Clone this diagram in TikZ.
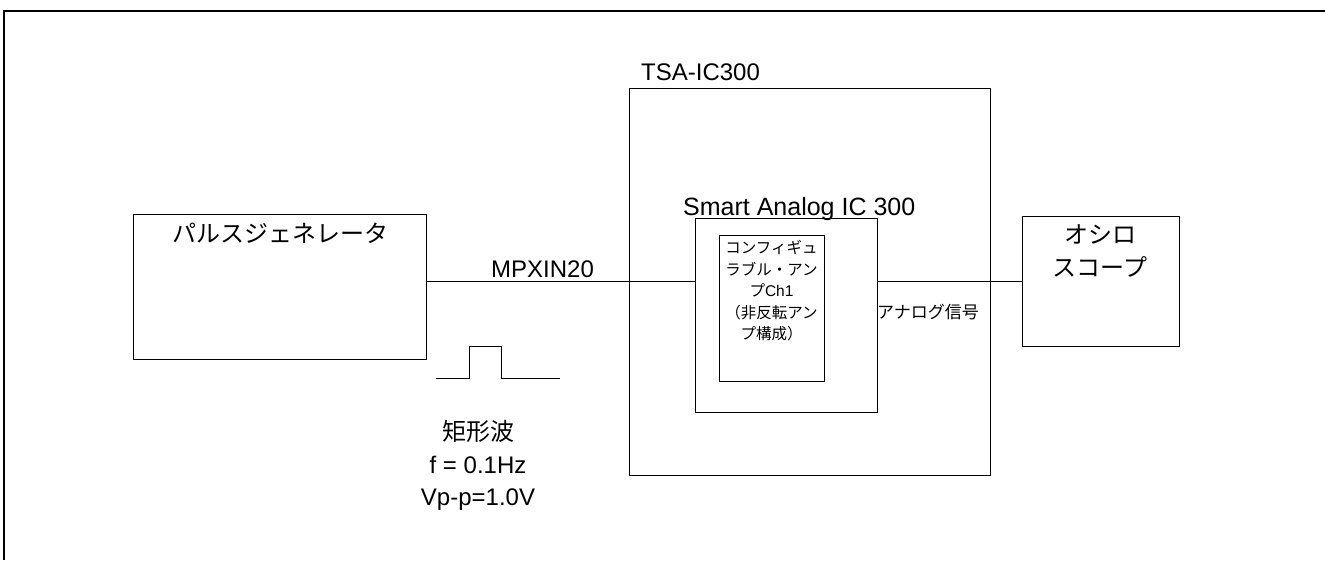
\documentclass[tikz,border=0pt]{standalone}
\usepackage{fontspec}
\setmainfont{Liberation Sans}
\newfontfamily\jp{Noto Sans CJK JP}
\begin{document}
\begin{tikzpicture}[x=1pt,y=-1pt,
  box/.style={draw=black, line width=0.9pt, inner sep=0pt, anchor=north west},
  wire/.style={draw=black, line width=0.9pt},
  txt/.style={inner sep=0pt, font=\fontsize{24}{32}\selectfont},
  jptxt/.style={inner sep=0pt, font=\jp\fontsize{24}{33}\selectfont, align=center},
  smalljp/.style={inner sep=0pt, font=\jp\fontsize{15.5}{21.5}\selectfont, align=center}]
\useasboundingbox (0,0) rectangle (1325,560);
% outer frame (only top and left edges visible)
\draw[line width=2pt] (1325,11) -- (4,11) -- (4,560);

% boxes
\node[box, minimum width=293pt, minimum height=145pt] (pg) at (133,214) {};
\node[box, minimum width=361pt, minimum height=387pt] (tsa) at (629,88) {};
\node[box, minimum width=182pt, minimum height=194pt] (sa) at (695,218) {};
\node[box, minimum width=105pt, minimum height=146pt] (cfg) at (719,235) {};
\node[box, minimum width=157pt, minimum height=130pt] (osc) at (1022,216) {};

% texts
\node[jptxt] (pgt) at (280,233) {パルスジェネレータ};
\node[txt, anchor=base west] (tsat) at (641,80) {TSA-IC300};
\node[txt, anchor=base west, font=\fontsize{25}{32}\selectfont] (sat) at (683,215) {Smart Analog IC 300};
\node[smalljp] (cfgt) at (771.5,291) {コンフィギュ\\ラブル・アン\\プ{\rmfamily Ch1}\\（非反転アン\\プ構成）};
\node[jptxt] (osct) at (1100,251.5) {オシロ\\スコープ};
\node[txt, anchor=base west] (mpx) at (491,277) {MPXIN20};
\node[inner sep=0pt, anchor=west, font=\jp\fontsize{17}{20}\selectfont] (ana) at (877,312) {アナログ信号};
\node[txt, align=center, font=\fontsize{24}{32.5}\selectfont] (wavet) at (478,465.5) {{\jp 矩形波}\\f = 0.1Hz\\Vp-p=1.0V};

% connectors
\draw[wire] (pg.east |- osc.west) -- (sa.west |- osc.west);
\draw[wire] (sa.east |- osc.west) -- (osc.west);

% pulse waveform
\draw[line width=0.9pt] (436,378) -- (469,378) -- (469,346) -- (501,346) -- (501,378) -- (560,378);
\end{tikzpicture}
\end{document}
